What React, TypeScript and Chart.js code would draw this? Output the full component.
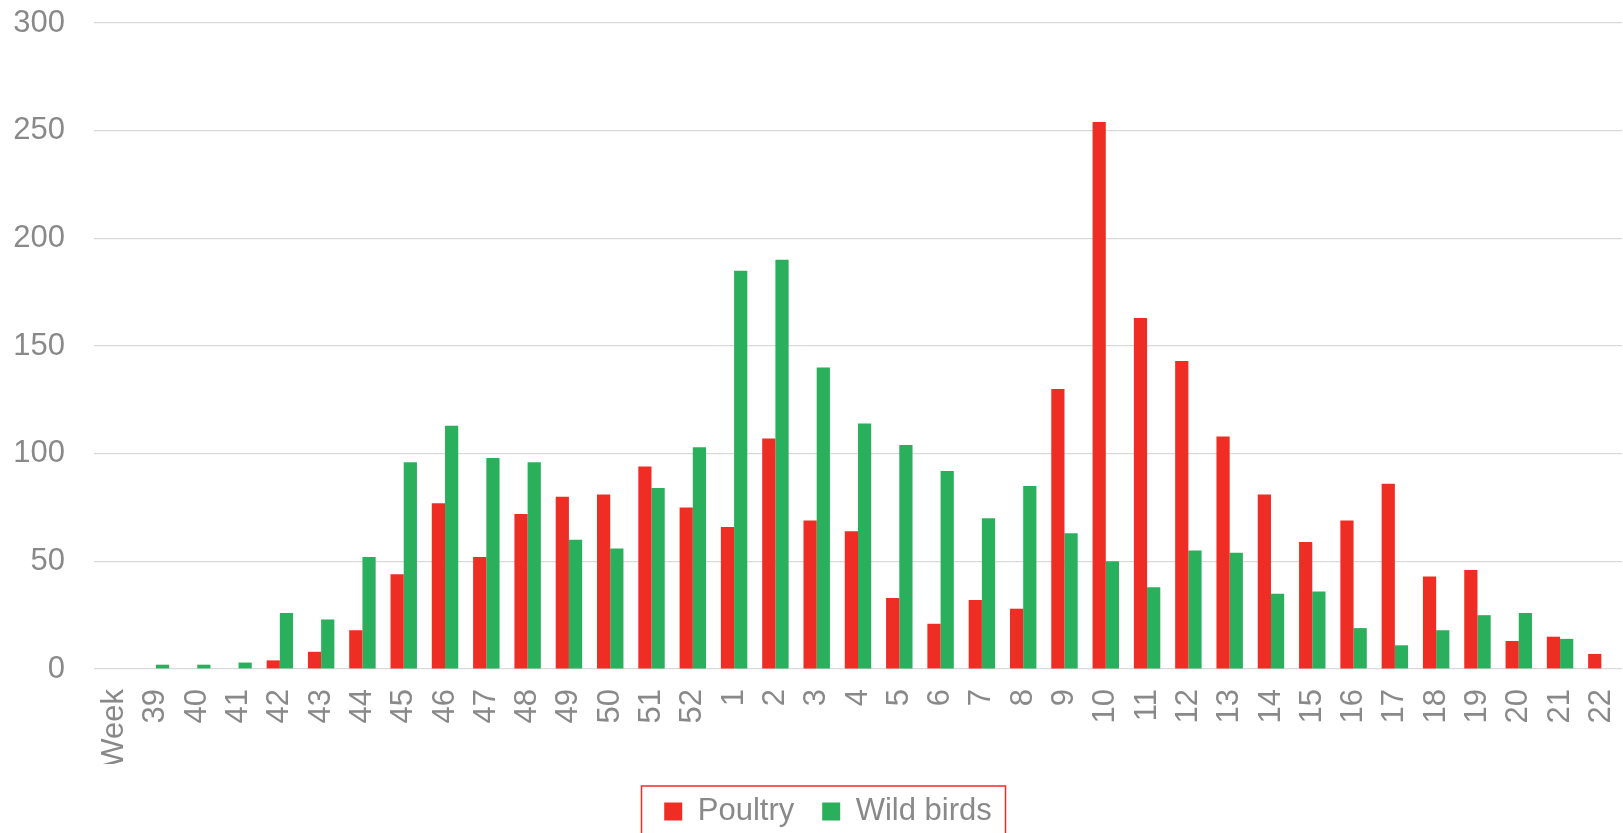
import React, { useEffect, useRef } from "react";
import { Chart, registerables } from "chart.js";

Chart.register(...registerables);

const weeks: string[] = [
  "Week", "39", "40", "41", "42", "43", "44", "45", "46", "47", "48", "49", "50", "51", "52",
  "1", "2", "3", "4", "5", "6", "7", "8", "9", "10", "11", "12", "13", "14", "15", "16", "17",
  "18", "19", "20", "21", "22",
];

const poultry: (number | null)[] = [
  null, null, null, null, 4, 8, 18, 44, 77, 52, 72, 80, 81, 94, 75,
  66, 107, 69, 64, 33, 21, 32, 28, 130, 254, 163, 143, 108, 81, 59, 69, 86,
  43, 46, 13, 15, 7,
];

const wildBirds: (number | null)[] = [
  null, 2, 2, 3, 26, 23, 52, 96, 113, 98, 96, 60, 56, 84, 103,
  185, 190, 140, 114, 104, 92, 70, 85, 63, 50, 38, 55, 54, 35, 36, 19, 11,
  18, 25, 26, 14, null,
];

const yTicks: number[] = [0, 50, 100, 150, 200, 250, 300];

const FONT = "'Liberation Sans', Arial, Helvetica, sans-serif";
const TEXT = "#898989";
const RED = "#EE2D24";
const GREEN = "#2AB05C";

const legendTweak = {
  id: "legendTweak",
  afterLayout(chart: any) {
    const lg = chart.legend;
    if (!lg) return;
    lg.left += 17;
    lg.right += 17;
    lg.top += 4;
    lg.bottom += 4;
  },
  afterDraw(chart: any) {
    const lg = chart.legend;
    if (!lg) return;
    const cx = (lg.left + lg.right) / 2;
    const left = cx - 186.5;
    const right = cx + 177.5;
    const top = lg.top + 18;
    const ctx = chart.ctx;
    ctx.save();
    ctx.strokeStyle = RED;
    ctx.lineWidth = 1.5;
    ctx.strokeRect(left, top, right - left, chart.height + 10 - top);
    ctx.restore();
  },
};

export default function App() {
  const ref = useRef<HTMLCanvasElement | null>(null);

  useEffect(() => {
    document.body.style.margin = "0";
    const canvas = ref.current;
    if (!canvas) return;
    const chart = new Chart(canvas, {
      type: "bar",
      data: {
        labels: weeks,
        datasets: [
          {
            label: "Poultry",
            data: poultry,
            backgroundColor: RED,
            borderWidth: 0,
            categoryPercentage: 0.64,
            barPercentage: 1,
          },
          {
            label: "Wild birds",
            data: wildBirds,
            backgroundColor: GREEN,
            borderWidth: 0,
            categoryPercentage: 0.64,
            barPercentage: 1,
          },
        ],
      },
      options: {
        responsive: false,
        animation: false,
        layout: { padding: { top: 23, left: 0, right: 1, bottom: 0 } },
        scales: {
          x: {
            grid: { display: false, drawTicks: false },
            border: { display: false },
            ticks: {
              color: TEXT,
              font: { family: FONT, size: 31 },
              minRotation: 90,
              maxRotation: 90,
              autoSkip: false,
              padding: 20,
            },
            afterFit(scale: any) {
              scale.height = 95;
              scale.paddingLeft = 0;
              scale.paddingRight = 0;
              scale.paddingTop = 0;
              scale.paddingBottom = 0;
            },
          },
          y: {
            min: 0,
            max: 300,
            afterBuildTicks(scale: any) {
              scale.ticks = yTicks.map((v) => ({ value: v }));
            },
            grid: { color: "#d9d9d9", lineWidth: 1.2, drawTicks: false },
            border: { display: false },
            ticks: {
              color: TEXT,
              font: { family: FONT, size: 31 },
              padding: 29,
            },
            afterFit(scale: any) {
              scale.width = 94;
              scale.paddingTop = 0;
              scale.paddingBottom = 0;
            },
          },
        },
        plugins: {
          legend: {
            position: "bottom",
            labels: {
              color: TEXT,
              font: { family: FONT, size: 31 },
              boxWidth: 18,
              boxHeight: 18,
              padding: 28,
            },
          },
          tooltip: { enabled: false },
        },
      },
      plugins: [legendTweak],
    });
    return () => chart.destroy();
  }, []);

  return (
    <div style={{ position: "absolute", left: 0, top: 0, width: 1623, height: 833, background: "#fff" }}>
      <canvas ref={ref} width={1623} height={833} style={{ display: "block" }} />
    </div>
  );
}
